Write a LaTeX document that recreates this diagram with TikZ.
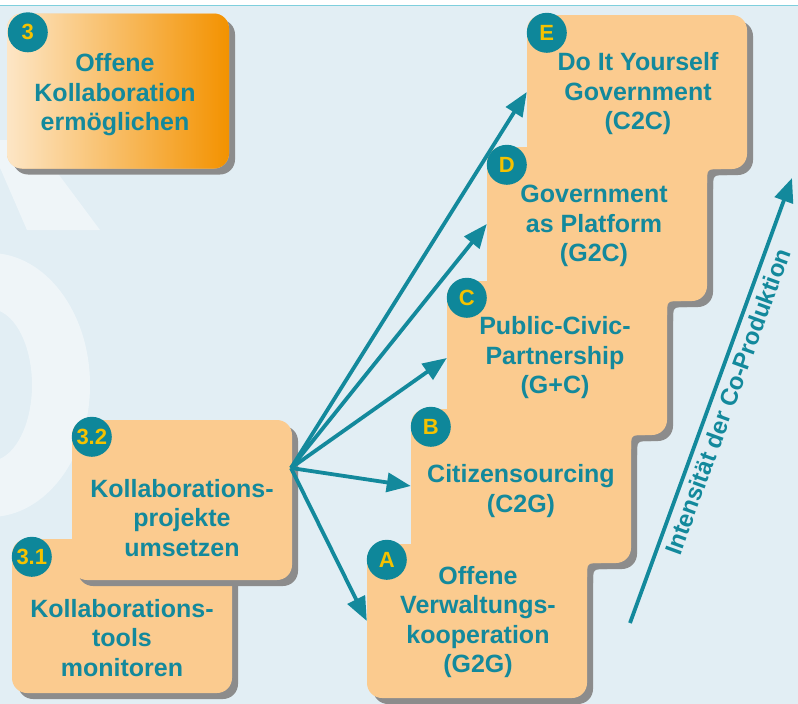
\documentclass[tikz,border=0pt]{standalone}
\usepackage{fontspec}
\setmainfont{Liberation Sans}
\usepackage{xcolor}
\usepackage{tikz}
\usetikzlibrary{positioning,arrows.meta,calc}
\definecolor{TealText}{HTML}{13899C}
\definecolor{BadgeTeal}{HTML}{0E879A}
\definecolor{BadgeGold}{HTML}{F5C200}
\definecolor{Peach}{HTML}{FBCB8F}
\definecolor{PeachLight}{HTML}{FDE6C6}
\definecolor{OrangeDeep}{HTML}{F39200}
\definecolor{ShadowGray}{HTML}{8C8C8C}
\definecolor{SkyBg}{HTML}{E2EEF4}
\definecolor{TopRule}{HTML}{7ECFDD}

\begin{document}
\begin{tikzpicture}[x=1pt,y=-1pt,
    every node/.style={font=\bfseries\fontsize{25}{29.5}\selectfont},
    box/.style={fill=Peach, rounded corners=15pt, minimum width=220pt,
                minimum height=154pt, inner sep=0pt},
    shade/.style={box, fill=ShadowGray},
    txt/.style={text=TealText, align=center, inner sep=0pt},
    badge/.style={circle, fill=BadgeTeal, text=BadgeGold, minimum size=40pt,
                  inner sep=0pt, font=\bfseries\fontsize{22}{22}\selectfont},
    ar/.style={-{Triangle[length=24pt,width=19pt]}, line width=3.8pt, TealText}]
  \useasboundingbox (0,0) rectangle (798,704);
  % background with faint watermark
  \fill[white] (0,0) rectangle (798,704);
  \fill[SkyBg] (0,6) rectangle (798,704);
  \draw[TopRule, line width=1.5pt] (0,5.5) -- (798,5.5);
  \fill[white, opacity=0.45, even odd rule]
    (-10,385) ellipse [x radius=100, y radius=132]
    (-10,385) ellipse [x radius=42, y radius=76];
  \fill[white, opacity=0.45] (-12,140) -- (33,140) -- (100,230) -- (27,230) -- cycle;

  % top box 3
  \node[shade, minimum width=222pt, minimum height=155pt] (K3s) at (124,97) {};
  \node[box, minimum width=222pt, minimum height=155pt,
        left color=PeachLight, right color=OrangeDeep] (K3) at (118,91) {};
  \node[txt] (tK3) at (115,95) {Offene\\Kollaboration\\ermöglichen};
  \node[badge] (bK3) at ([shift={(21,19)}]K3.north west) {3};

  % boxes 3.1 and 3.2
  \node[shade] (K31s) at (128,622) {};
  \node[box] (K31) at (122,616) {};
  \node[shade, minimum height=160pt] (K32s) at (188,506) {};
  \node[box, minimum height=160pt] (K32) at (182,500) {};
  \node[txt] (tK31) at (122,638) {Kollaborations-\\tools\\monitoren};
  \node[txt] (tK32) at (182,518) {Kollaborations-\\projekte\\umsetzen};
  \node[badge] (bK31) at ([shift={(20,18)}]K31.north west) {3.1};
  \node[badge] (bK32) at ([shift={(20,17)}]K32.north west) {3.2};

  % staircase A-E: shadows first
  \node[shade] (Es) at (643,98) {};
  \node[shade] (Ds) at (603,230) {};
  \node[shade] (Cs) at (563,364) {};
  \node[shade] (Bs) at (527,492) {};
  \node[shade] (As) at (483,627) {};
  \fill[ShadowGray] (713,175) -- ++(14,0) .. controls (713,175) .. (713,189) -- cycle;
  \fill[ShadowGray] (673,307) -- ++(14,0) .. controls (673,307) .. (673,321) -- cycle;
  \fill[ShadowGray] (637,441) -- ++(14,0) .. controls (637,441) .. (637,455) -- cycle;
  \fill[ShadowGray] (593,569) -- ++(14,0) .. controls (593,569) .. (593,583) -- cycle;
  \node[box] (E) at (637,92) {};
  \node[box] (D) at (597,224) {};
  \node[box] (C) at (557,358) {};
  \node[box] (B) at (521,486) {};
  \node[box] (A) at (477,621) {};
  \fill[Peach] (707,169) -- ++(14,0) .. controls (707,169) .. (707,183) -- cycle;
  \fill[Peach] (667,301) -- ++(14,0) .. controls (667,301) .. (667,315) -- cycle;
  \fill[Peach] (631,435) -- ++(14,0) .. controls (631,435) .. (631,449) -- cycle;
  \fill[Peach] (587,563) -- ++(14,0) .. controls (587,563) .. (587,577) -- cycle;

  \node[txt] (tE) at (638,94) {Do It Yourself\\Government\\(C2C)};
  \node[txt] (tD) at (594,226) {Government\\as Platform\\(G2C)};
  \node[txt] (tC) at (555,358) {Public-Civic-\\Partnership\\(G+C)};
  \node[txt] (tB) at (521,491) {Citizensourcing\\(C2G)};
  \node[txt] (tA) at (478,622) {Offene\\Verwaltungs-\\kooperation\\(G2G)};

  \node[badge] (bE) at ([shift={(20,18)}]E.north west) {E};
  \node[badge] (bD) at ([shift={(20,18)}]D.north west) {D};
  \node[badge] (bC) at ([shift={(20,17)}]C.north west) {C};
  \node[badge] (bB) at ([shift={(20,18)}]B.north west) {B};
  \node[badge] (bA) at ([shift={(20,16)}]A.north west) {A};

  % connectors
  \coordinate (hub) at (291,468);
  \draw[ar] (hub) -- (A.west);
  \draw[ar] (hub) -- (B.west);
  \draw[ar] (hub) -- (C.west);
  \draw[ar] (hub) -- (D.west);
  \draw[ar] (hub) -- (E.west);

  \coordinate (lowend) at (630,623);
  \coordinate (highend) at (792,178);
  \draw[ar] (lowend) -- node[sloped, below=2pt, pos=0.51, text=TealText,
      font=\bfseries\fontsize{24}{24}\selectfont] (intens)
    {Intensität der Co-Produktion} (highend);
\end{tikzpicture}
\end{document}
